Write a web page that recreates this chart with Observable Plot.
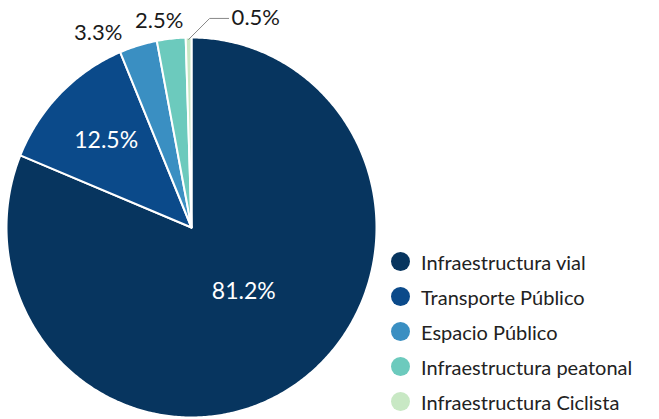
<!DOCTYPE html>
<html>
<head>
<meta charset="utf-8">
<script src="https://cdn.jsdelivr.net/npm/d3@7"></script>
<script src="https://cdn.jsdelivr.net/npm/@observablehq/plot@0.6"></script>
<style>
  html, body { margin: 0; padding: 0; background: #fff; }
  #wrap { position: relative; width: 659px; height: 419px; overflow: hidden; font-family: Lato, sans-serif; }
  #legend { position: absolute; left: 391px; top: 244px; }
  .row { display: flex; align-items: center; height: 35px; }
  .sw { width: 19px; height: 19px; border-radius: 50%; margin-right: 11px; }
  .lab { font-size: 20px; color: #222; white-space: nowrap; line-height: 1; }
</style>
</head>
<body>
<div id="wrap"></div>
<script>
const categories = ["Infraestructura vial", "Transporte Público", "Espacio Público", "Infraestructura peatonal", "Infraestructura Ciclista"];
const values = [81.2, 12.5, 3.3, 2.5, 0.5];
const labels = ["81.2%", "12.5%", "3.3%", "2.5%", "0.5%"];
const colors = ["#07355f", "#0b4a8a", "#3a8fc2", "#6ccabd", "#c8e8c4"];

const total = d3.sum(values);
let acc = 0;
const slices = categories.map((cat, i) => {
  const a0 = acc / total * 2 * Math.PI;
  acc += values[i];
  const a1 = acc / total * 2 * Math.PI;
  return {cat, value: values[i], label: labels[i], a0, a1, mid: (a0 + a1) / 2};
});

// polygon outlines of the slices (angle measured clockwise from 12 o'clock)
const pts = [];
for (const s of slices) {
  pts.push({cat: s.cat, x: 0, y: 0});
  const n = Math.max(2, Math.ceil((s.a1 - s.a0) / 0.01));
  for (let k = 0; k <= n; k++) {
    const a = s.a0 + (s.a1 - s.a0) * k / n;
    pts.push({cat: s.cat, x: Math.sin(a), y: Math.cos(a)});
  }
}

const at = (s, r) => ({x: r * Math.sin(s.mid), y: r * Math.cos(s.mid)});
const lab0 = {...slices[0], ...at(slices[0], 0.42)};
const lab1 = {...slices[1], ...at(slices[1], 0.65)};
const lab2 = {...slices[2], ...at(slices[2], 1)};
const lab3 = {...slices[3], ...at(slices[3], 1)};
const last = slices[4];
const e0 = at(last, 0.99);
const leader = [
  {x: e0.x, y: e0.y},
  {x: e0.x + 21 / 185, y: e0.y + 21 / 190},
  {x: e0.x + 40 / 185, y: e0.y + 21 / 190}
];

const plot = Plot.plot({
  width: 659,
  height: 419,
  margin: 0,
  x: {domain: [-1, 1], range: [6, 376], axis: null},
  y: {domain: [-1, 1], range: [417, 37], axis: null},
  color: {domain: categories, range: colors},
  style: {fontFamily: "Lato, sans-serif", background: "transparent"},
  marks: [
    Plot.line(pts, {x: "x", y: "y", z: "cat", fill: "cat", stroke: "white", strokeWidth: 2, curve: "linear-closed", strokeLinejoin: "round"}),
    Plot.text([lab0], {x: "x", y: "y", text: "label", dx: 9, dy: -2, fill: "white", fontSize: 23}),
    Plot.text([lab1], {x: "x", y: "y", text: "label", fill: "white", fontSize: 23}),
    Plot.text([lab2], {x: "x", y: "y", text: "label", dx: -40, dy: -13, fill: "#1a1a1a", fontSize: 22}),
    Plot.text([lab3], {x: "x", y: "y", text: "label", dx: -12, dy: -18, fill: "#1a1a1a", fontSize: 22}),
    Plot.line(leader, {x: "x", y: "y", stroke: "#888", strokeWidth: 1}),
    Plot.text([last], {x: leader[2].x, y: leader[2].y, text: "label", textAnchor: "start", dx: 3, fill: "#1a1a1a", fontSize: 22})
  ]
});

const wrap = document.getElementById("wrap");
wrap.appendChild(plot);

const legend = document.createElement("div");
legend.id = "legend";
categories.forEach((c, i) => {
  const row = document.createElement("div");
  row.className = "row";
  const sw = document.createElement("div");
  sw.className = "sw";
  sw.style.background = colors[i];
  const lab = document.createElement("div");
  lab.className = "lab";
  lab.textContent = c;
  row.appendChild(sw);
  row.appendChild(lab);
  legend.appendChild(row);
});
wrap.appendChild(legend);
</script>
</body>
</html>
